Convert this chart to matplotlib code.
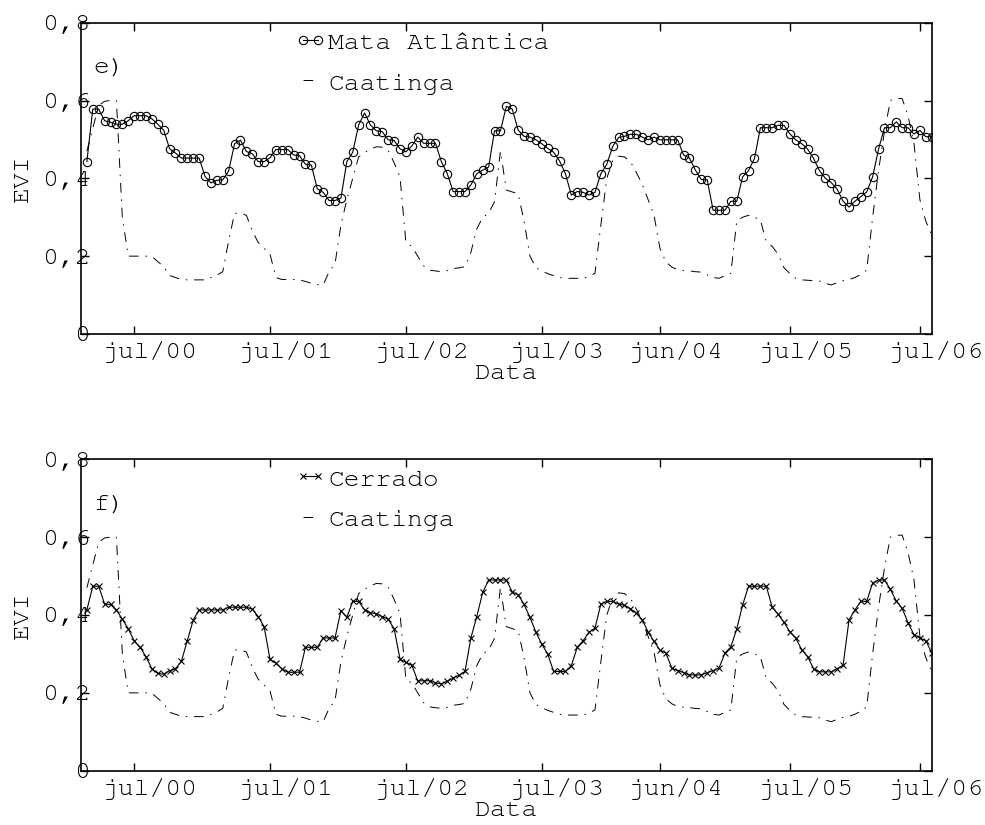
import matplotlib
matplotlib.use("Agg")
import matplotlib.pyplot as plt
import numpy as np
from matplotlib import font_manager
from matplotlib.transforms import ScaledTranslation

# pick a courier-like font if there is one
installed = {f.name for f in font_manager.fontManager.ttflist}
mono = next((f for f in ["Courier New", "Nimbus Mono PS", "FreeMono", "Courier",
                         "Liberation Mono"] if f in installed), "DejaVu Sans Mono")
plt.rcParams["font.family"] = mono
plt.rcParams["font.size"] = 19

# EVI, 16-day composites (144 of them, feb/2000 - jul/2006)
mata_atlantica = [
    0.443, 0.578, 0.578, 0.548, 0.544, 0.539, 0.539, 0.548, 0.561, 0.561,
    0.561, 0.553, 0.539, 0.524, 0.476, 0.465, 0.452, 0.452, 0.452, 0.452,
    0.405, 0.388, 0.395, 0.396, 0.419, 0.489, 0.498, 0.469, 0.463, 0.443,
    0.443, 0.453, 0.474, 0.474, 0.474, 0.460, 0.458, 0.436, 0.434, 0.373,
    0.364, 0.343, 0.343, 0.349, 0.443, 0.467, 0.537, 0.568, 0.537, 0.522,
    0.520, 0.499, 0.497, 0.476, 0.468, 0.483, 0.506, 0.490, 0.490, 0.490,
    0.443, 0.412, 0.366, 0.366, 0.366, 0.383, 0.412, 0.421, 0.429, 0.522,
    0.522, 0.585, 0.578, 0.524, 0.508, 0.506, 0.499, 0.489, 0.477, 0.467,
    0.445, 0.412, 0.357, 0.366, 0.364, 0.357, 0.364, 0.412, 0.436, 0.482,
    0.505, 0.508, 0.513, 0.513, 0.506, 0.499, 0.506, 0.499, 0.499, 0.499,
    0.499, 0.460, 0.452, 0.421, 0.397, 0.396, 0.318, 0.318, 0.318, 0.341,
    0.341, 0.404, 0.420, 0.451, 0.530, 0.530, 0.530, 0.536, 0.536, 0.514,
    0.499, 0.489, 0.475, 0.451, 0.420, 0.400, 0.389, 0.372, 0.341, 0.326,
    0.341, 0.353, 0.365, 0.404, 0.475, 0.530, 0.530, 0.545, 0.530, 0.530,
    0.514, 0.523, 0.507, 0.507,
]

cerrado = [
    0.413, 0.474, 0.474, 0.428, 0.427, 0.413, 0.389, 0.365, 0.334, 0.317,
    0.293, 0.262, 0.250, 0.248, 0.257, 0.262, 0.281, 0.334, 0.387, 0.413,
    0.413, 0.413, 0.413, 0.413, 0.420, 0.420, 0.420, 0.420, 0.415, 0.396,
    0.370, 0.286, 0.276, 0.262, 0.253, 0.253, 0.253, 0.317, 0.317, 0.317,
    0.341, 0.341, 0.341, 0.411, 0.394, 0.435, 0.435, 0.413, 0.406, 0.403,
    0.396, 0.389, 0.365, 0.287, 0.278, 0.271, 0.231, 0.231, 0.231, 0.226,
    0.223, 0.230, 0.238, 0.245, 0.255, 0.341, 0.396, 0.458, 0.490, 0.490,
    0.490, 0.490, 0.459, 0.452, 0.427, 0.394, 0.356, 0.325, 0.300, 0.255,
    0.255, 0.255, 0.270, 0.317, 0.334, 0.356, 0.366, 0.428, 0.435, 0.435,
    0.428, 0.425, 0.416, 0.405, 0.388, 0.356, 0.332, 0.310, 0.302, 0.264,
    0.257, 0.252, 0.246, 0.246, 0.246, 0.252, 0.257, 0.264, 0.302, 0.318,
    0.364, 0.426, 0.474, 0.474, 0.474, 0.474, 0.420, 0.402, 0.381, 0.357,
    0.340, 0.311, 0.293, 0.262, 0.254, 0.254, 0.254, 0.262, 0.271, 0.387,
    0.413, 0.435, 0.435, 0.482, 0.490, 0.490, 0.466, 0.436, 0.417, 0.380,
    0.349, 0.341, 0.334, 0.303,
]

caatinga = [
    0.470, 0.528, 0.587, 0.598, 0.600, 0.600, 0.300, 0.200, 0.200, 0.200,
    0.200, 0.199, 0.186, 0.173, 0.150, 0.145, 0.140, 0.139, 0.139, 0.139,
    0.139, 0.145, 0.151, 0.160, 0.240, 0.310, 0.310, 0.305, 0.265, 0.235,
    0.220, 0.205, 0.145, 0.140, 0.140, 0.140, 0.139, 0.135, 0.130, 0.127,
    0.126, 0.160, 0.180, 0.280, 0.345, 0.400, 0.455, 0.466, 0.475, 0.481,
    0.480, 0.472, 0.440, 0.404, 0.235, 0.225, 0.200, 0.175, 0.164, 0.162,
    0.160, 0.163, 0.168, 0.170, 0.173, 0.210, 0.270, 0.300, 0.310, 0.340,
    0.470, 0.370, 0.365, 0.360, 0.290, 0.200, 0.170, 0.162, 0.155, 0.150,
    0.145, 0.143, 0.143, 0.143, 0.143, 0.148, 0.156, 0.280, 0.400, 0.445,
    0.457, 0.455, 0.443, 0.415, 0.385, 0.345, 0.305, 0.220, 0.185, 0.172,
    0.165, 0.163, 0.162, 0.160, 0.159, 0.152, 0.145, 0.143, 0.150, 0.156,
    0.290, 0.300, 0.305, 0.300, 0.293, 0.237, 0.225, 0.205, 0.170, 0.155,
    0.143, 0.139, 0.138, 0.137, 0.136, 0.130, 0.126, 0.132, 0.137, 0.140,
    0.145, 0.153, 0.164, 0.300, 0.420, 0.520, 0.600, 0.605, 0.605, 0.560,
    0.490, 0.345, 0.290, 0.255,
]

composite = np.arange(1, len(mata_atlantica) + 1)

x_tick_pos = [9, 32, 55, 78, 98, 120, 142]
x_tick_labels = ["jul/00", "jul/01", "jul/02", "jul/03", "jun/04", "jul/05", "jul/06"]
y_tick_pos = [0, 0.2, 0.4, 0.6, 0.8]
y_tick_labels = ["0", "0,2", "0,4", "0,6", "0,8"]


def draw_panel(ax, values, name, marker, msize, letter):
    ax.plot(composite, values, color="k", linewidth=0.8, marker=marker,
            markersize=msize, markerfacecolor="none", markeredgewidth=0.8,
            label=name)
    ax.plot(composite, caatinga, color="k", linewidth=0.7,
            linestyle=(0, (10, 7, 1.5, 7)), label="Caatinga")

    ax.set_xlim(0, 144)
    ax.set_ylim(0, 0.8)
    ax.set_xticks(x_tick_pos)
    ax.set_xticklabels(x_tick_labels)
    ax.set_yticks(y_tick_pos)
    ax.set_yticklabels(y_tick_labels)
    ax.tick_params(direction="in", top=True, right=True, length=6, width=1)
    ax.tick_params(axis="y", pad=-7)
    ax.tick_params(axis="x", pad=5)
    for side in ["left", "bottom", "top", "right"]:
        ax.spines[side].set_linewidth(1.2)

    # tick labels sit a bit to the right of the ticks in the original
    shift = ScaledTranslation(0.16, 0, ax.figure.dpi_scale_trans)
    for lbl in ax.get_xticklabels():
        lbl.set_transform(lbl.get_transform() + shift)

    ax.set_xlabel("Data", labelpad=1)
    ax.set_ylabel("EVI", labelpad=7)
    ax.text(0.014, 0.855, letter, transform=ax.transAxes, va="center")

    ax.legend(loc="upper left", bbox_to_anchor=(0.252, 0.975), frameon=False,
              borderpad=0, borderaxespad=0, handlelength=1.15,
              handletextpad=0.1, labelspacing=0.65, numpoints=2)


fig = plt.figure(figsize=(9.85, 8.25), dpi=100)
ax_top = fig.add_axes([0.0822, 0.5952, 0.8637, 0.3773])
ax_bot = fig.add_axes([0.0822, 0.0658, 0.8637, 0.3775])

draw_panel(ax_top, mata_atlantica, "Mata Atlântica", "o", 6, "e)")
draw_panel(ax_bot, cerrado, "Cerrado", "x", 5, "f)")

fig.savefig("out.png", dpi=100)
